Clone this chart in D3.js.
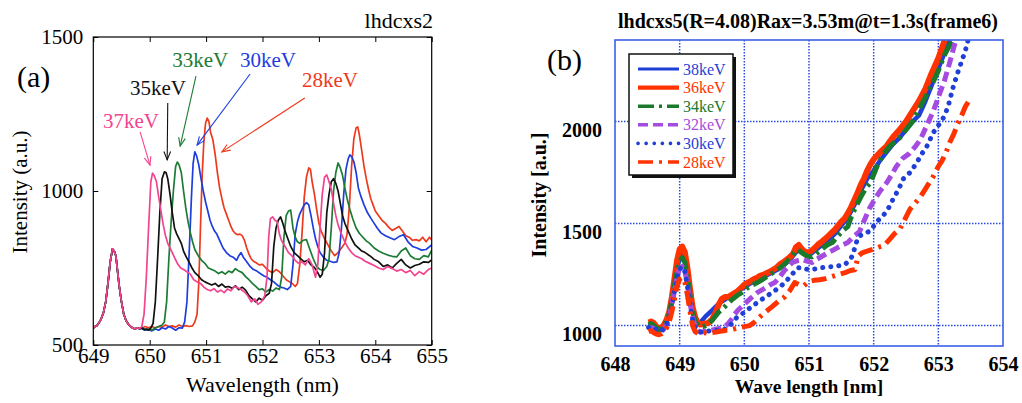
<!DOCTYPE html>
<html>
<head>
<meta charset="utf-8">
<script src="https://cdn.jsdelivr.net/npm/d3@7/dist/d3.min.js"></script>
<style>
body { margin: 0; background: #fff; }
text { font-family: "Liberation Serif", "DejaVu Serif", serif; }
</style>
</head>
<body>
<svg id="chart" width="1022" height="403" font-family="Liberation Serif, serif"></svg>
<script>
// ---- panel (a) data: wavelength (nm), intensity (a.u.) ----
var headA = [[649.00,555],[649.03,560],[649.06,562],[649.10,572],[649.14,585],[649.18,605],[649.22,640],[649.26,700],[649.30,770],[649.34,812],[649.37,805],[649.40,790],[649.43,740],[649.46,690],[649.50,640],[649.54,600],[649.58,580],[649.62,568],[649.66,560],[649.70,555],[649.74,552],[649.78,556],[649.82,553]];

var a37 = [[649.86,560],[649.90,600],[649.94,720],[649.98,880],[650.02,1030],[650.05,1058],[650.08,1050],[650.12,1030],[650.16,980],[650.20,935],[650.24,890],[650.28,855],[650.32,830],[650.36,815],[650.40,800],[650.45,780],[650.50,762],[650.55,750],[650.60,745],[650.66,738],[650.72,730],[650.78,712],[650.84,705],[650.90,700],[650.96,688],[651.02,680],[651.08,676],[651.14,683],[651.20,672],[651.26,678],[651.32,670],[651.38,682],[651.44,676],[651.50,690],[651.56,686],[651.62,680],[651.68,672],[651.74,660],[651.80,640],[651.86,650],[651.92,632],[651.98,640],[652.04,660],[652.08,720],[652.11,850],[652.14,910],[652.18,916],[652.22,905],[652.26,900],[652.30,860],[652.34,838],[652.40,820],[652.46,800],[652.52,790],[652.58,775],[652.64,765],[652.70,770],[652.76,760],[652.82,780],[652.88,760],[652.94,720],[652.98,760],[653.02,880],[653.06,990],[653.10,1045],[653.14,1052],[653.18,1030],[653.22,1005],[653.26,960],[653.30,920],[653.34,890],[653.40,860],[653.46,835],[653.52,815],[653.58,800],[653.64,790],[653.70,785],[653.76,780],[653.82,772],[653.90,765],[653.98,758],[654.06,750],[654.14,745],[654.22,755],[654.30,748],[654.38,740],[654.46,745],[654.54,735],[654.62,742],[654.70,725],[654.78,738],[654.86,730],[654.94,745],[655.00,750]];

var a35 = [[649.86,556],[649.90,550],[649.94,552],[649.98,548],[650.02,555],[650.06,570],[650.10,640],[650.14,780],[650.18,930],[650.22,1040],[650.26,1062],[650.29,1060],[650.32,1040],[650.36,990],[650.40,930],[650.44,880],[650.48,860],[650.52,845],[650.56,830],[650.60,805],[650.65,785],[650.70,768],[650.75,750],[650.80,735],[650.86,725],[650.92,712],[650.98,705],[651.04,700],[651.10,695],[651.16,700],[651.22,690],[651.28,698],[651.34,688],[651.40,690],[651.46,684],[651.52,692],[651.58,680],[651.64,688],[651.70,678],[651.76,660],[651.82,650],[651.88,640],[651.94,652],[652.00,645],[652.06,660],[652.12,668],[652.16,700],[652.20,820],[652.24,880],[652.28,905],[652.32,916],[652.36,895],[652.40,870],[652.44,850],[652.50,820],[652.56,800],[652.62,790],[652.68,780],[652.74,770],[652.80,775],[652.86,760],[652.92,752],[652.98,735],[653.02,720],[653.06,730],[653.10,800],[653.14,930],[653.18,990],[653.22,1030],[653.26,1040],[653.30,1025],[653.34,1000],[653.38,960],[653.42,920],[653.46,895],[653.52,870],[653.58,845],[653.64,825],[653.70,815],[653.76,805],[653.82,800],[653.90,790],[653.98,778],[654.06,770],[654.14,755],[654.22,760],[654.30,750],[654.38,765],[654.46,778],[654.54,760],[654.62,750],[654.70,758],[654.78,762],[654.86,770],[654.94,768],[655.00,776]];

var a33 = [[649.86,556],[649.92,550],[649.98,552],[650.04,548],[650.10,556],[650.16,560],[650.22,565],[650.26,575],[650.30,640],[650.34,780],[650.38,900],[650.42,1000],[650.46,1080],[650.49,1094],[650.52,1085],[650.56,1060],[650.60,1000],[650.64,945],[650.68,900],[650.72,865],[650.76,835],[650.80,810],[650.86,790],[650.92,775],[650.98,765],[651.04,750],[651.10,745],[651.16,740],[651.22,732],[651.28,738],[651.34,730],[651.40,740],[651.46,735],[651.52,748],[651.58,740],[651.64,735],[651.70,722],[651.76,712],[651.82,700],[651.88,690],[651.94,680],[652.00,682],[652.06,672],[652.12,680],[652.18,675],[652.24,685],[652.30,680],[652.34,720],[652.38,850],[652.42,920],[652.46,935],[652.50,938],[652.54,880],[652.58,850],[652.62,835],[652.66,830],[652.72,840],[652.78,842],[652.84,810],[652.90,780],[652.96,755],[653.02,745],[653.08,742],[653.14,755],[653.18,780],[653.22,880],[653.26,1000],[653.30,1060],[653.34,1091],[653.38,1075],[653.42,1050],[653.46,1010],[653.50,975],[653.55,940],[653.60,910],[653.66,880],[653.72,862],[653.78,850],[653.84,838],[653.90,830],[653.98,815],[654.06,805],[654.14,798],[654.22,792],[654.30,788],[654.38,786],[654.46,805],[654.54,815],[654.62,790],[654.70,780],[654.78,778],[654.86,790],[654.94,786],[655.00,808]];

var a30 = [[649.86,553],[649.92,548],[649.98,550],[650.04,546],[650.10,552],[650.16,548],[650.22,556],[650.28,552],[650.34,560],[650.40,555],[650.46,548],[650.52,556],[650.58,555],[650.62,575],[650.66,640],[650.70,800],[650.74,980],[650.77,1090],[650.80,1127],[650.83,1115],[650.87,1085],[650.91,1040],[650.95,1000],[650.99,965],[651.03,935],[651.07,905],[651.11,885],[651.15,870],[651.19,860],[651.24,840],[651.30,815],[651.36,800],[651.42,790],[651.48,785],[651.54,775],[651.58,790],[651.62,800],[651.66,785],[651.72,770],[651.78,755],[651.84,745],[651.90,740],[651.96,732],[652.02,725],[652.08,720],[652.14,712],[652.20,705],[652.26,695],[652.32,688],[652.38,685],[652.44,680],[652.50,690],[652.54,760],[652.58,860],[652.62,900],[652.66,925],[652.70,940],[652.74,955],[652.78,962],[652.82,955],[652.86,920],[652.90,880],[652.94,845],[652.98,820],[653.02,800],[653.08,785],[653.14,775],[653.20,772],[653.26,768],[653.32,770],[653.36,800],[653.40,880],[653.44,990],[653.48,1070],[653.52,1105],[653.55,1117],[653.58,1112],[653.62,1095],[653.66,1060],[653.70,1010],[653.74,985],[653.80,955],[653.86,930],[653.92,912],[653.98,895],[654.04,878],[654.10,864],[654.18,855],[654.26,848],[654.34,842],[654.42,852],[654.50,858],[654.58,835],[654.66,820],[654.74,815],[654.82,808],[654.90,810],[655.00,825]];

var a28 = [[649.86,555],[649.92,560],[649.98,556],[650.04,560],[650.10,555],[650.16,560],[650.22,558],[650.28,565],[650.34,560],[650.40,562],[650.46,558],[650.52,565],[650.58,560],[650.64,563],[650.70,560],[650.76,562],[650.80,575],[650.84,600],[650.87,700],[650.90,880],[650.93,1050],[650.96,1160],[650.99,1220],[651.02,1237],[651.05,1225],[651.08,1190],[651.12,1166],[651.16,1120],[651.20,1060],[651.24,1010],[651.28,975],[651.32,945],[651.36,925],[651.40,905],[651.44,885],[651.48,870],[651.52,862],[651.56,858],[651.60,860],[651.64,855],[651.68,840],[651.72,815],[651.76,795],[651.80,780],[651.84,772],[651.88,768],[651.94,760],[652.00,762],[652.06,750],[652.12,740],[652.18,735],[652.24,745],[652.30,738],[652.36,725],[652.42,712],[652.48,705],[652.54,698],[652.58,690],[652.62,700],[652.66,760],[652.70,860],[652.74,980],[652.78,1046],[652.82,1075],[652.85,1070],[652.88,1030],[652.92,990],[652.96,940],[653.00,895],[653.04,870],[653.10,845],[653.16,825],[653.22,805],[653.28,790],[653.34,800],[653.40,815],[653.46,830],[653.50,860],[653.54,950],[653.58,1080],[653.62,1170],[653.66,1205],[653.69,1208],[653.72,1180],[653.76,1130],[653.80,1080],[653.84,1040],[653.88,1005],[653.92,975],[653.96,955],[654.00,935],[654.06,920],[654.12,905],[654.18,895],[654.24,882],[654.30,872],[654.36,878],[654.42,885],[654.48,870],[654.54,855],[654.60,850],[654.66,840],[654.72,842],[654.78,838],[654.84,850],[654.90,835],[654.96,850],[655.00,841]];

var seriesA = [
  { name: "28keV", color: "#ee3a1c", values: headA.concat(a28) },
  { name: "30keV", color: "#1e3ddf", values: headA.concat(a30) },
  { name: "33keV", color: "#1c7b34", values: headA.concat(a33) },
  { name: "35keV", color: "#111111", values: headA.concat(a35) },
  { name: "37keV", color: "#f2448f", values: headA.concat(a37) }
];

// label anchor and arrow (from, to) in data units
var notesA = [
  { name: "37keV", color: "#f2448f", text: [649.17, 1205], from: [649.83, 1192], to: [650.005, 1084] },
  { name: "35keV", color: "#111111", text: [649.65, 1312], from: [650.32, 1286], to: [650.31, 1101] },
  { name: "33keV", color: "#1c7b34", text: [650.40, 1403], from: [650.82, 1373], to: [650.54, 1146] },
  { name: "30keV", color: "#1e3ddf", text: [651.60, 1403], from: [651.78, 1380], to: [650.84, 1149] },
  { name: "28keV", color: "#ee3a1c", text: [652.70, 1337], from: [652.75, 1302], to: [651.28, 1127] }
];

var ticksAx = [649, 650, 651, 652, 653, 654, 655];
var ticksAy = [500, 1000, 1500];

// ---- panel (b) data ----
var b38 = [[648.52,1000],[648.56,1005],[648.60,998],[648.64,985],[648.68,975],[648.72,980],[648.76,995],[648.80,1020],[648.84,1060],[648.88,1120],[648.92,1200],[648.96,1280],[649.00,1330],[649.04,1345],[649.08,1320],[649.12,1250],[649.16,1160],[649.20,1080],[649.24,1030],[649.28,1010],[649.32,1015],[649.36,1030],[649.40,1045],[649.45,1060],[649.50,1075],[649.55,1090],[649.60,1105],[649.65,1118],[649.70,1128],[649.75,1138],[649.80,1148],[649.85,1158],[649.90,1168],[649.95,1178],[650.00,1188],[650.10,1208],[650.20,1225],[650.30,1240],[650.40,1255],[650.50,1272],[650.60,1295],[650.70,1320],[650.80,1360],[650.85,1370],[650.90,1360],[651.00,1345],[651.10,1370],[651.20,1395],[651.30,1420],[651.40,1450],[651.50,1490],[651.60,1530],[651.70,1590],[651.80,1660],[651.90,1720],[652.00,1760],[652.10,1810],[652.20,1850],[652.30,1890],[652.40,1920],[652.50,1960],[652.60,2000],[652.70,2030],[652.80,2100],[652.90,2180],[653.00,2260],[653.10,2340],[653.18,2400]];

var b36 = [[648.52,1015],[648.56,1020],[648.60,1012],[648.64,995],[648.68,985],[648.72,990],[648.76,1005],[648.80,1030],[648.84,1070],[648.88,1140],[648.92,1230],[648.96,1320],[649.00,1375],[649.04,1387],[649.08,1360],[649.12,1280],[649.16,1180],[649.20,1090],[649.24,1040],[649.28,1015],[649.32,1005],[649.36,1008],[649.40,1010],[649.45,1015],[649.50,1030],[649.55,1060],[649.60,1100],[649.65,1130],[649.70,1140],[649.75,1140],[649.80,1150],[649.85,1160],[649.90,1170],[649.95,1185],[650.00,1200],[650.05,1210],[650.10,1218],[650.15,1228],[650.20,1235],[650.25,1245],[650.30,1250],[650.35,1258],[650.40,1265],[650.45,1275],[650.50,1285],[650.55,1300],[650.60,1310],[650.65,1322],[650.70,1335],[650.75,1350],[650.80,1385],[650.84,1395],[650.88,1380],[650.92,1365],[650.96,1360],[651.00,1358],[651.05,1370],[651.10,1385],[651.15,1400],[651.20,1412],[651.25,1425],[651.30,1440],[651.35,1455],[651.40,1470],[651.45,1490],[651.50,1510],[651.55,1525],[651.60,1550],[651.65,1580],[651.70,1615],[651.75,1650],[651.80,1690],[651.85,1720],[651.90,1760],[651.95,1790],[652.00,1815],[652.10,1850],[652.20,1880],[652.30,1925],[652.40,1960],[652.50,2000],[652.60,2050],[652.70,2100],[652.80,2160],[652.90,2240],[653.00,2310],[653.10,2400]];

var b34 = [[648.52,1005],[648.56,1010],[648.60,1000],[648.64,990],[648.68,980],[648.72,985],[648.76,1000],[648.80,1025],[648.84,1060],[648.88,1120],[648.92,1200],[648.96,1270],[649.00,1318],[649.04,1333],[649.08,1310],[649.12,1240],[649.16,1150],[649.20,1070],[649.24,1020],[649.28,1000],[649.32,995],[649.36,995],[649.40,1000],[649.45,1010],[649.50,1025],[649.55,1045],[649.60,1065],[649.65,1080],[649.70,1093],[649.75,1110],[649.80,1125],[649.85,1138],[649.90,1150],[649.96,1162],[650.05,1185],[650.10,1195],[650.20,1211],[650.30,1230],[650.40,1250],[650.50,1272],[650.58,1289],[650.65,1310],[650.72,1335],[650.78,1360],[650.83,1372],[650.90,1355],[650.97,1340],[651.05,1338],[651.12,1355],[651.20,1375],[651.28,1395],[651.36,1407],[651.45,1440],[651.52,1465],[651.60,1485],[651.66,1540],[651.72,1580],[651.80,1630],[651.88,1675],[651.95,1700],[652.05,1780],[652.15,1840],[652.25,1880],[652.40,1920],[652.50,1960],[652.60,2000],[652.70,2060],[652.80,2120],[652.90,2180],[653.00,2250],[653.10,2330],[653.22,2400]];

var b32 = [[648.52,985],[648.56,990],[648.60,985],[648.64,975],[648.68,968],[648.72,972],[648.76,985],[648.80,1005],[648.84,1040],[648.88,1100],[648.92,1170],[648.96,1240],[649.00,1280],[649.04,1290],[649.08,1270],[649.12,1200],[649.16,1110],[649.20,1040],[649.24,995],[649.28,975],[649.32,968],[649.36,970],[649.40,972],[649.45,975],[649.50,978],[649.55,982],[649.60,985],[649.65,990],[649.70,995],[649.75,1010],[649.80,1030],[649.85,1055],[649.90,1075],[649.96,1093],[650.05,1120],[650.10,1135],[650.20,1162],[650.30,1180],[650.40,1200],[650.47,1211],[650.55,1240],[650.62,1270],[650.68,1290],[650.74,1309],[650.82,1318],[650.90,1323],[650.98,1315],[651.05,1309],[651.12,1325],[651.20,1340],[651.30,1358],[651.40,1375],[651.50,1392],[651.60,1407],[651.70,1440],[651.78,1460],[651.86,1520],[651.94,1578],[652.02,1620],[652.10,1660],[652.20,1700],[652.28,1740],[652.35,1780],[652.45,1820],[652.55,1843],[652.65,1880],[652.72,1911],[652.82,1980],[652.92,2050],[653.00,2120],[653.09,2196],[653.18,2294],[653.27,2400]];

var b30 = [[648.52,990],[648.56,995],[648.60,990],[648.64,978],[648.68,970],[648.72,975],[648.76,988],[648.80,1005],[648.84,1040],[648.88,1095],[648.92,1165],[648.96,1235],[649.00,1278],[649.04,1289],[649.08,1265],[649.12,1195],[649.16,1100],[649.20,1030],[649.24,990],[649.28,972],[649.32,968],[649.36,970],[649.42,972],[649.48,975],[649.54,976],[649.60,978],[649.66,980],[649.72,985],[649.78,1000],[649.85,1030],[649.92,1050],[650.00,1064],[650.10,1090],[650.20,1113],[650.30,1135],[650.43,1162],[650.53,1185],[650.63,1211],[650.72,1245],[650.83,1284],[650.92,1280],[651.00,1274],[651.10,1278],[651.20,1284],[651.30,1288],[651.40,1290],[651.50,1295],[651.56,1300],[651.62,1320],[651.68,1345],[651.72,1400],[651.78,1440],[651.86,1450],[651.95,1465],[652.05,1510],[652.15,1540],[652.22,1570],[652.30,1620],[652.38,1665],[652.46,1720],[652.56,1750],[652.66,1795],[652.74,1840],[652.82,1877],[652.92,1945],[653.03,1995],[653.10,2030],[653.16,2085],[653.23,2170],[653.30,2240],[653.36,2295],[653.42,2350],[653.46,2400]];

var b28 = [[648.52,970],[648.56,975],[648.60,965],[648.64,958],[648.68,955],[648.72,960],[648.76,970],[648.80,990],[648.84,1020],[648.88,1070],[648.92,1130],[648.96,1195],[649.00,1228],[649.04,1235],[649.08,1215],[649.12,1150],[649.16,1070],[649.20,1000],[649.24,970],[649.28,962],[649.32,960],[649.38,965],[649.44,962],[649.50,966],[649.56,968],[649.62,972],[649.68,975],[649.74,978],[649.80,980],[649.86,985],[649.92,990],[650.00,995],[650.08,1000],[650.15,1015],[650.20,1030],[650.28,1055],[650.36,1075],[650.43,1093],[650.50,1112],[650.56,1128],[650.63,1142],[650.70,1170],[650.78,1211],[650.85,1200],[650.92,1195],[651.00,1216],[651.08,1222],[651.16,1225],[651.25,1230],[651.35,1240],[651.45,1250],[651.56,1260],[651.64,1270],[651.71,1274],[651.76,1340],[651.82,1357],[651.90,1365],[652.00,1375],[652.08,1385],[652.16,1392],[652.24,1420],[652.32,1450],[652.40,1470],[652.48,1520],[652.56,1570],[652.64,1600],[652.72,1630],[652.82,1680],[652.92,1730],[653.00,1780],[653.06,1810],[653.12,1850],[653.18,1900],[653.24,1940],[653.30,1990],[653.36,2030],[653.42,2075],[653.49,2110]];

var seriesB = [
  { name: "38keV", color: "#1f3fd6", width: 4.5, dash: null,        cap: "butt",  values: b38 },
  { name: "36keV", color: "#ff3300", width: 6,   dash: null,        cap: "butt",  values: b36 },
  { name: "34keV", color: "#1a7a2c", width: 5,   dash: "16,5,3,5",  cap: "butt",  values: b34 },
  { name: "32keV", color: "#a64be0", width: 5,   dash: "10,5",      cap: "butt",  values: b32 },
  { name: "30keV", color: "#1f3fd6", width: 5,   dash: "0.1,8",     cap: "round", values: b30 },
  { name: "28keV", color: "#ff3300", width: 5,   dash: "15,6,3,6",  cap: "butt",  values: b28 }
];

var ticksBx = [648, 649, 650, 651, 652, 653, 654];
var ticksBy = [1000, 1500, 2000];

var svg = d3.select("#chart");

// ================= panel (a) =================
var xA = d3.scaleLinear().domain([649, 655]).range([93.3, 431.7]);
var yA = d3.scaleLinear().domain([500, 1500]).range([345, 37]);

svg.append("clipPath").attr("id", "clipA")
  .append("rect").attr("x", 93.3).attr("y", 37).attr("width", 338.4).attr("height", 308);

var gA = svg.append("g");

function styleAxis(sel, size, weight) {
  sel.attr("font-family", null);
  sel.select(".domain").remove();
  sel.selectAll(".tick line").attr("stroke", "#000");
  sel.selectAll("text").attr("fill", "#000")
    .style("font-family", '"Liberation Serif", "DejaVu Serif", serif')
    .style("font-size", size + "px").style("font-weight", weight);
}

gA.append("g").attr("transform", "translate(0,345)")
  .call(d3.axisBottom(xA).tickValues(ticksAx).tickFormat(d3.format("d")).tickSize(-5).tickPadding(3))
  .call(styleAxis, 21, "normal");
gA.append("g").attr("transform", "translate(0,37)")
  .call(d3.axisTop(xA).tickValues(ticksAx).tickFormat("").tickSize(-5))
  .call(styleAxis, 21, "normal");
gA.append("g").attr("transform", "translate(93.3,0)")
  .call(d3.axisLeft(yA).tickValues(ticksAy).tickFormat(d3.format("d")).tickSize(-5).tickPadding(10))
  .call(styleAxis, 21, "normal");
gA.append("g").attr("transform", "translate(431.7,0)")
  .call(d3.axisRight(yA).tickValues(ticksAy).tickFormat("").tickSize(-5))
  .call(styleAxis, 21, "normal");

var lineA = d3.line().x(d => xA(d[0])).y(d => yA(d[1]));

gA.append("g").attr("clip-path", "url(#clipA)")
  .selectAll("path").data(seriesA).enter().append("path")
  .attr("d", d => lineA(d.values))
  .attr("fill", "none")
  .attr("stroke", d => d.color)
  .attr("stroke-width", 1.7)
  .attr("stroke-linejoin", "round");

gA.append("rect").attr("x", 93.3).attr("y", 37).attr("width", 338.4).attr("height", 308)
  .attr("fill", "none").attr("stroke", "#000").attr("stroke-width", 1.2);

// annotations with open arrowheads
notesA.forEach(function (n) {
  var x0 = xA(n.from[0]), y0 = yA(n.from[1]), x1 = xA(n.to[0]), y1 = yA(n.to[1]);
  var ang = Math.atan2(y1 - y0, x1 - x0), len = 9, spread = 0.38;
  gA.append("line").attr("x1", x0).attr("y1", y0).attr("x2", x1).attr("y2", y1)
    .attr("stroke", n.color).attr("stroke-width", 1.1);
  gA.append("path")
    .attr("d", "M" + (x1 - len * Math.cos(ang - spread)) + "," + (y1 - len * Math.sin(ang - spread)) +
      "L" + x1 + "," + y1 +
      "L" + (x1 - len * Math.cos(ang + spread)) + "," + (y1 - len * Math.sin(ang + spread)))
    .attr("fill", "none").attr("stroke", n.color).attr("stroke-width", 1.1);
  gA.append("text").attr("x", xA(n.text[0])).attr("y", yA(n.text[1]))
    .attr("fill", n.color).style("font-size", "21px").text(n.name);
});

gA.append("text").attr("x", 433).attr("y", 28).attr("text-anchor", "end")
  .style("font-size", "22px").text("lhdcxs2");
gA.append("text").attr("x", 17).attr("y", 87).style("font-size", "30px").text("(a)");
gA.append("text").attr("x", 262.5).attr("y", 392).attr("text-anchor", "middle")
  .style("font-size", "22px").text("Wavelength (nm)");
gA.append("text").attr("transform", "translate(27,192) rotate(-90)").attr("text-anchor", "middle")
  .style("font-size", "21px").text("Intensity (a.u.)");

// ================= panel (b) =================
var xB = d3.scaleLinear().domain([648, 654]).range([615, 1003]);
var yB = d3.scaleLinear().domain([900, 2400]).range([346, 40]);

svg.append("clipPath").attr("id", "clipB")
  .append("rect").attr("x", 615).attr("y", 40).attr("width", 388).attr("height", 306);

var gB = svg.append("g");

// dotted grid
gB.append("g").selectAll("line").data(ticksBx.slice(1, -1)).enter().append("line")
  .attr("x1", d => xB(d)).attr("x2", d => xB(d)).attr("y1", 40).attr("y2", 346)
  .attr("stroke", "#2848e0").attr("stroke-width", 1.5).attr("stroke-dasharray", "1.5,1.5");
gB.append("g").selectAll("line").data(ticksBy).enter().append("line")
  .attr("x1", 615).attr("x2", 1003).attr("y1", d => yB(d)).attr("y2", d => yB(d))
  .attr("stroke", "#2848e0").attr("stroke-width", 1.5).attr("stroke-dasharray", "1.5,1.5");

gB.append("g").attr("transform", "translate(0,346)")
  .call(d3.axisBottom(xB).tickValues(ticksBx).tickFormat(d3.format("d")).tickSize(0).tickPadding(11))
  .call(styleAxis, 20, "bold");
var yAxisB = gB.append("g").attr("transform", "translate(615,0)")
  .call(d3.axisLeft(yB).tickValues(ticksBy).tickFormat(d3.format("d")).tickSize(0).tickPadding(13))
  .call(styleAxis, 20, "bold");
yAxisB.selectAll("text").attr("dy", "0.72em");

var lineB = d3.line().x(d => xB(d[0])).y(d => yB(d[1]));

gB.append("g").attr("clip-path", "url(#clipB)")
  .selectAll("path").data(seriesB).enter().append("path")
  .attr("d", d => lineB(d.values))
  .attr("fill", "none")
  .attr("stroke", d => d.color)
  .attr("stroke-width", d => d.width)
  .attr("stroke-dasharray", d => d.dash)
  .attr("stroke-linecap", d => d.cap)
  .attr("stroke-linejoin", "round");

gB.append("rect").attr("x", 615).attr("y", 40).attr("width", 388).attr("height", 306)
  .attr("fill", "none").attr("stroke", "#3d5fe6").attr("stroke-width", 1.6);

// legend
var lg = gB.append("g");
lg.append("rect").attr("x", 632).attr("y", 57).attr("width", 104).attr("height", 121).attr("fill", "#111");
lg.append("rect").attr("x", 629).attr("y", 54).attr("width", 104).attr("height", 121)
  .attr("fill", "#fff").attr("stroke", "#111").attr("stroke-width", 1.5);
var rowY = d3.scalePoint().domain(seriesB.map(d => d.name)).range([69, 162]);
var rows = lg.selectAll("g.row").data(seriesB).enter().append("g").attr("class", "row")
  .attr("transform", d => "translate(0," + rowY(d.name) + ")");
rows.append("line").attr("x1", 638).attr("x2", 679).attr("y1", 0).attr("y2", 0)
  .attr("stroke", d => d.color)
  .attr("stroke-width", d => d.width * 0.72)
  .attr("stroke-dasharray", d => d.dash)
  .attr("stroke-linecap", d => d.cap);
rows.append("text").attr("x", 683).attr("y", 5.5)
  .attr("fill", d => d.color).style("font-size", "16px").text(d => d.name);

gB.append("text").attr("x", 808).attr("y", 28).attr("text-anchor", "middle")
  .style("font-size", "20px").style("font-weight", "bold")
  .text("lhdcxs5(R=4.08)Rax=3.53m@t=1.3s(frame6)");
gB.append("text").attr("x", 547).attr("y", 70).style("font-size", "30px").text("(b)");
gB.append("text").attr("x", 809).attr("y", 393).attr("text-anchor", "middle")
  .style("font-size", "19.5px").style("font-weight", "bold").text("Wave length [nm]");
gB.append("text").attr("transform", "translate(546,195) rotate(-90)").attr("text-anchor", "middle")
  .style("font-size", "20px").style("font-weight", "bold").text("Intensity [a.u.]");
</script>
</body>
</html>
